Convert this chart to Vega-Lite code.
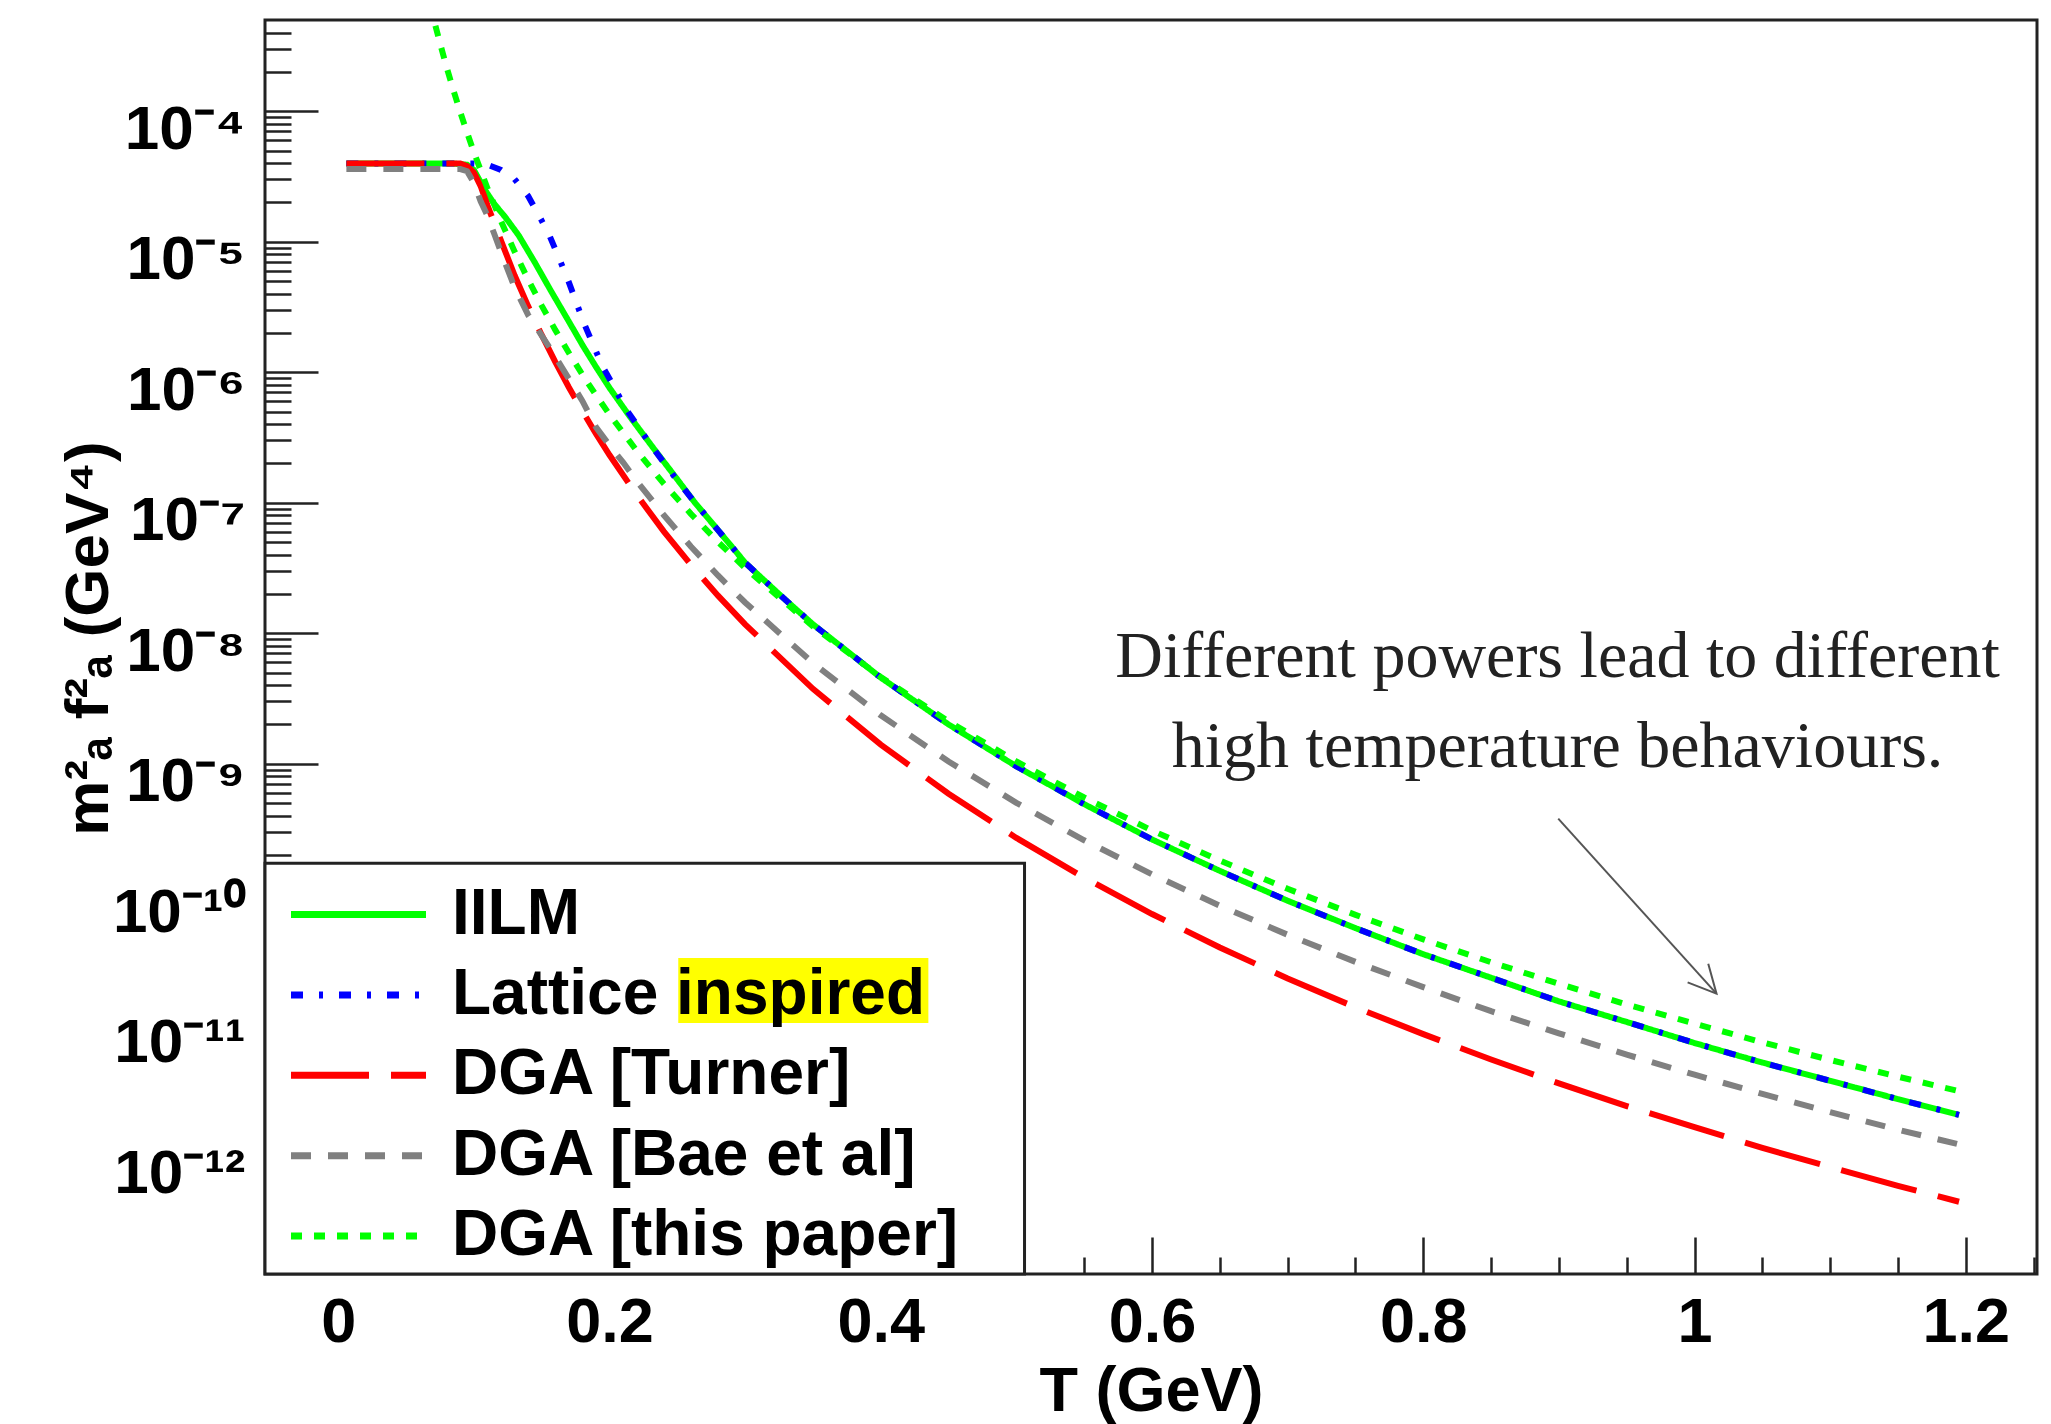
{
  "$schema": "https://vega.github.io/schema/vega-lite/v6.json",
  "width": 1772,
  "height": 1254,
  "autosize": {"type": "none"},
  "padding": {"left": 265, "top": 20, "right": 14, "bottom": 150},
  "background": "white",
  "config": {"view": {"stroke": "#222", "strokeWidth": 3}, "font": "Liberation Sans"},
  "datasets": {
    "curves": [
      {"model": "IILM", "T": 0.006, "v": 3.97e-5},
      {"model": "IILM", "T": 0.03, "v": 3.97e-5},
      {"model": "IILM", "T": 0.06, "v": 3.97e-5},
      {"model": "IILM", "T": 0.085, "v": 3.97e-5},
      {"model": "IILM", "T": 0.095, "v": 3.89e-5},
      {"model": "IILM", "T": 0.1, "v": 3.55e-5},
      {"model": "IILM", "T": 0.108, "v": 2.51e-5},
      {"model": "IILM", "T": 0.115, "v": 1.95e-5},
      {"model": "IILM", "T": 0.123, "v": 1.55e-5},
      {"model": "IILM", "T": 0.133, "v": 1.12e-5},
      {"model": "IILM", "T": 0.145, "v": 6.92e-6},
      {"model": "IILM", "T": 0.157, "v": 4.17e-6},
      {"model": "IILM", "T": 0.17, "v": 2.45e-6},
      {"model": "IILM", "T": 0.18, "v": 1.62e-6},
      {"model": "IILM", "T": 0.19, "v": 1.10e-6},
      {"model": "IILM", "T": 0.2, "v": 7.59e-7},
      {"model": "IILM", "T": 0.215, "v": 4.57e-7},
      {"model": "IILM", "T": 0.233, "v": 2.57e-7},
      {"model": "IILM", "T": 0.25, "v": 1.51e-7},
      {"model": "IILM", "T": 0.263, "v": 1.00e-7},
      {"model": "IILM", "T": 0.28, "v": 6.17e-8},
      {"model": "IILM", "T": 0.3, "v": 3.47e-8},
      {"model": "IILM", "T": 0.327, "v": 1.91e-8},
      {"model": "IILM", "T": 0.35, "v": 1.17e-8},
      {"model": "IILM", "T": 0.4, "v": 4.57e-9},
      {"model": "IILM", "T": 0.45, "v": 2.00e-9},
      {"model": "IILM", "T": 0.5, "v": 9.55e-10},
      {"model": "IILM", "T": 0.55, "v": 4.90e-10},
      {"model": "IILM", "T": 0.6, "v": 2.63e-10},
      {"model": "IILM", "T": 0.65, "v": 1.51e-10},
      {"model": "IILM", "T": 0.7, "v": 8.91e-11},
      {"model": "IILM", "T": 0.75, "v": 5.50e-11},
      {"model": "IILM", "T": 0.8, "v": 3.47e-11},
      {"model": "IILM", "T": 0.85, "v": 2.29e-11},
      {"model": "IILM", "T": 0.9, "v": 1.51e-11},
      {"model": "IILM", "T": 0.95, "v": 1.05e-11},
      {"model": "IILM", "T": 1.0, "v": 7.24e-12},
      {"model": "IILM", "T": 1.05, "v": 5.13e-12},
      {"model": "IILM", "T": 1.1, "v": 3.72e-12},
      {"model": "IILM", "T": 1.15, "v": 2.69e-12},
      {"model": "IILM", "T": 1.195, "v": 2.04e-12},

      {"model": "Lattice inspired", "T": 0.006, "v": 3.97e-5},
      {"model": "Lattice inspired", "T": 0.03, "v": 3.97e-5},
      {"model": "Lattice inspired", "T": 0.06, "v": 3.97e-5},
      {"model": "Lattice inspired", "T": 0.085, "v": 3.97e-5},
      {"model": "Lattice inspired", "T": 0.1, "v": 3.97e-5},
      {"model": "Lattice inspired", "T": 0.11, "v": 3.89e-5},
      {"model": "Lattice inspired", "T": 0.12, "v": 3.55e-5},
      {"model": "Lattice inspired", "T": 0.13, "v": 3.02e-5},
      {"model": "Lattice inspired", "T": 0.14, "v": 2.24e-5},
      {"model": "Lattice inspired", "T": 0.15, "v": 1.45e-5},
      {"model": "Lattice inspired", "T": 0.156, "v": 1.10e-5},
      {"model": "Lattice inspired", "T": 0.163, "v": 7.41e-6},
      {"model": "Lattice inspired", "T": 0.17, "v": 4.90e-6},
      {"model": "Lattice inspired", "T": 0.181, "v": 2.40e-6},
      {"model": "Lattice inspired", "T": 0.19, "v": 1.45e-6},
      {"model": "Lattice inspired", "T": 0.195, "v": 1.10e-6},
      {"model": "Lattice inspired", "T": 0.2, "v": 8.91e-7},
      {"model": "Lattice inspired", "T": 0.212, "v": 5.25e-7},
      {"model": "Lattice inspired", "T": 0.22, "v": 3.98e-7},
      {"model": "Lattice inspired", "T": 0.232, "v": 2.63e-7},
      {"model": "Lattice inspired", "T": 0.25, "v": 1.48e-7},
      {"model": "Lattice inspired", "T": 0.263, "v": 1.00e-7},
      {"model": "Lattice inspired", "T": 0.28, "v": 6.17e-8},
      {"model": "Lattice inspired", "T": 0.3, "v": 3.47e-8},
      {"model": "Lattice inspired", "T": 0.327, "v": 1.91e-8},
      {"model": "Lattice inspired", "T": 0.35, "v": 1.17e-8},
      {"model": "Lattice inspired", "T": 0.4, "v": 4.57e-9},
      {"model": "Lattice inspired", "T": 0.45, "v": 2.00e-9},
      {"model": "Lattice inspired", "T": 0.5, "v": 9.55e-10},
      {"model": "Lattice inspired", "T": 0.55, "v": 4.90e-10},
      {"model": "Lattice inspired", "T": 0.6, "v": 2.63e-10},
      {"model": "Lattice inspired", "T": 0.65, "v": 1.51e-10},
      {"model": "Lattice inspired", "T": 0.7, "v": 8.91e-11},
      {"model": "Lattice inspired", "T": 0.75, "v": 5.50e-11},
      {"model": "Lattice inspired", "T": 0.8, "v": 3.47e-11},
      {"model": "Lattice inspired", "T": 0.85, "v": 2.29e-11},
      {"model": "Lattice inspired", "T": 0.9, "v": 1.51e-11},
      {"model": "Lattice inspired", "T": 0.95, "v": 1.05e-11},
      {"model": "Lattice inspired", "T": 1.0, "v": 7.24e-12},
      {"model": "Lattice inspired", "T": 1.05, "v": 5.13e-12},
      {"model": "Lattice inspired", "T": 1.1, "v": 3.72e-12},
      {"model": "Lattice inspired", "T": 1.15, "v": 2.69e-12},
      {"model": "Lattice inspired", "T": 1.195, "v": 2.04e-12},

      {"model": "DGA [Turner]", "T": 0.006, "v": 3.97e-5},
      {"model": "DGA [Turner]", "T": 0.03, "v": 3.97e-5},
      {"model": "DGA [Turner]", "T": 0.06, "v": 3.97e-5},
      {"model": "DGA [Turner]", "T": 0.09, "v": 3.97e-5},
      {"model": "DGA [Turner]", "T": 0.095, "v": 3.80e-5},
      {"model": "DGA [Turner]", "T": 0.1, "v": 3.39e-5},
      {"model": "DGA [Turner]", "T": 0.105, "v": 2.67e-5},
      {"model": "DGA [Turner]", "T": 0.11, "v": 1.90e-5},
      {"model": "DGA [Turner]", "T": 0.12, "v": 1.02e-5},
      {"model": "DGA [Turner]", "T": 0.13, "v": 5.53e-6},
      {"model": "DGA [Turner]", "T": 0.14, "v": 3.21e-6},
      {"model": "DGA [Turner]", "T": 0.15, "v": 1.93e-6},
      {"model": "DGA [Turner]", "T": 0.16, "v": 1.20e-6},
      {"model": "DGA [Turner]", "T": 0.17, "v": 7.67e-7},
      {"model": "DGA [Turner]", "T": 0.18, "v": 5.04e-7},
      {"model": "DGA [Turner]", "T": 0.19, "v": 3.38e-7},
      {"model": "DGA [Turner]", "T": 0.2, "v": 2.32e-7},
      {"model": "DGA [Turner]", "T": 0.22, "v": 1.15e-7},
      {"model": "DGA [Turner]", "T": 0.24, "v": 6.04e-8},
      {"model": "DGA [Turner]", "T": 0.26, "v": 3.35e-8},
      {"model": "DGA [Turner]", "T": 0.28, "v": 1.94e-8},
      {"model": "DGA [Turner]", "T": 0.3, "v": 1.17e-8},
      {"model": "DGA [Turner]", "T": 0.35, "v": 3.75e-9},
      {"model": "DGA [Turner]", "T": 0.4, "v": 1.40e-9},
      {"model": "DGA [Turner]", "T": 0.45, "v": 5.89e-10},
      {"model": "DGA [Turner]", "T": 0.5, "v": 2.70e-10},
      {"model": "DGA [Turner]", "T": 0.55, "v": 1.34e-10},
      {"model": "DGA [Turner]", "T": 0.6, "v": 7.05e-11},
      {"model": "DGA [Turner]", "T": 0.65, "v": 3.91e-11},
      {"model": "DGA [Turner]", "T": 0.7, "v": 2.26e-11},
      {"model": "DGA [Turner]", "T": 0.75, "v": 1.36e-11},
      {"model": "DGA [Turner]", "T": 0.8, "v": 8.47e-12},
      {"model": "DGA [Turner]", "T": 0.85, "v": 5.41e-12},
      {"model": "DGA [Turner]", "T": 0.9, "v": 3.55e-12},
      {"model": "DGA [Turner]", "T": 0.95, "v": 2.38e-12},
      {"model": "DGA [Turner]", "T": 1.0, "v": 1.64e-12},
      {"model": "DGA [Turner]", "T": 1.05, "v": 1.14e-12},
      {"model": "DGA [Turner]", "T": 1.1, "v": 8.11e-13},
      {"model": "DGA [Turner]", "T": 1.15, "v": 5.83e-13},
      {"model": "DGA [Turner]", "T": 1.195, "v": 4.40e-13},

      {"model": "DGA [Bae et al]", "T": 0.006, "v": 3.60e-5},
      {"model": "DGA [Bae et al]", "T": 0.03, "v": 3.60e-5},
      {"model": "DGA [Bae et al]", "T": 0.06, "v": 3.60e-5},
      {"model": "DGA [Bae et al]", "T": 0.09, "v": 3.60e-5},
      {"model": "DGA [Bae et al]", "T": 0.095, "v": 3.47e-5},
      {"model": "DGA [Bae et al]", "T": 0.1, "v": 2.82e-5},
      {"model": "DGA [Bae et al]", "T": 0.105, "v": 2.04e-5},
      {"model": "DGA [Bae et al]", "T": 0.11, "v": 1.58e-5},
      {"model": "DGA [Bae et al]", "T": 0.115, "v": 1.15e-5},
      {"model": "DGA [Bae et al]", "T": 0.12, "v": 8.32e-6},
      {"model": "DGA [Bae et al]", "T": 0.13, "v": 4.47e-6},
      {"model": "DGA [Bae et al]", "T": 0.14, "v": 2.75e-6},
      {"model": "DGA [Bae et al]", "T": 0.15, "v": 1.91e-6},
      {"model": "DGA [Bae et al]", "T": 0.16, "v": 1.32e-6},
      {"model": "DGA [Bae et al]", "T": 0.17, "v": 8.91e-7},
      {"model": "DGA [Bae et al]", "T": 0.18, "v": 6.03e-7},
      {"model": "DGA [Bae et al]", "T": 0.19, "v": 3.80e-7},
      {"model": "DGA [Bae et al]", "T": 0.2, "v": 2.75e-7},
      {"model": "DGA [Bae et al]", "T": 0.21, "v": 2.04e-7},
      {"model": "DGA [Bae et al]", "T": 0.22, "v": 1.47e-7},
      {"model": "DGA [Bae et al]", "T": 0.24, "v": 8.05e-8},
      {"model": "DGA [Bae et al]", "T": 0.26, "v": 4.62e-8},
      {"model": "DGA [Bae et al]", "T": 0.28, "v": 2.77e-8},
      {"model": "DGA [Bae et al]", "T": 0.3, "v": 1.72e-8},
      {"model": "DGA [Bae et al]", "T": 0.35, "v": 5.92e-9},
      {"model": "DGA [Bae et al]", "T": 0.4, "v": 2.35e-9},
      {"model": "DGA [Bae et al]", "T": 0.45, "v": 1.04e-9},
      {"model": "DGA [Bae et al]", "T": 0.5, "v": 5.02e-10},
      {"model": "DGA [Bae et al]", "T": 0.55, "v": 2.59e-10},
      {"model": "DGA [Bae et al]", "T": 0.6, "v": 1.42e-10},
      {"model": "DGA [Bae et al]", "T": 0.65, "v": 8.17e-11},
      {"model": "DGA [Bae et al]", "T": 0.7, "v": 4.89e-11},
      {"model": "DGA [Bae et al]", "T": 0.75, "v": 3.03e-11},
      {"model": "DGA [Bae et al]", "T": 0.8, "v": 1.94e-11},
      {"model": "DGA [Bae et al]", "T": 0.85, "v": 1.27e-11},
      {"model": "DGA [Bae et al]", "T": 0.9, "v": 8.59e-12},
      {"model": "DGA [Bae et al]", "T": 0.95, "v": 5.90e-12},
      {"model": "DGA [Bae et al]", "T": 1.0, "v": 4.14e-12},
      {"model": "DGA [Bae et al]", "T": 1.05, "v": 2.95e-12},
      {"model": "DGA [Bae et al]", "T": 1.1, "v": 2.14e-12},
      {"model": "DGA [Bae et al]", "T": 1.15, "v": 1.57e-12},
      {"model": "DGA [Bae et al]", "T": 1.195, "v": 1.21e-12},

      {"model": "DGA [this paper]", "T": 0.06, "v": 1.48e-3},
      {"model": "DGA [this paper]", "T": 0.065, "v": 8.65e-4},
      {"model": "DGA [this paper]", "T": 0.07, "v": 5.27e-4},
      {"model": "DGA [this paper]", "T": 0.075, "v": 3.33e-4},
      {"model": "DGA [this paper]", "T": 0.08, "v": 2.16e-4},
      {"model": "DGA [this paper]", "T": 0.085, "v": 1.44e-4},
      {"model": "DGA [this paper]", "T": 0.09, "v": 9.82e-5},
      {"model": "DGA [this paper]", "T": 0.095, "v": 6.85e-5},
      {"model": "DGA [this paper]", "T": 0.1, "v": 4.86e-5},
      {"model": "DGA [this paper]", "T": 0.11, "v": 2.57e-5},
      {"model": "DGA [this paper]", "T": 0.12, "v": 1.44e-5},
      {"model": "DGA [this paper]", "T": 0.13, "v": 8.43e-6},
      {"model": "DGA [this paper]", "T": 0.14, "v": 5.13e-6},
      {"model": "DGA [this paper]", "T": 0.15, "v": 3.24e-6},
      {"model": "DGA [this paper]", "T": 0.16, "v": 2.11e-6},
      {"model": "DGA [this paper]", "T": 0.17, "v": 1.41e-6},
      {"model": "DGA [this paper]", "T": 0.18, "v": 9.59e-7},
      {"model": "DGA [this paper]", "T": 0.19, "v": 6.68e-7},
      {"model": "DGA [this paper]", "T": 0.2, "v": 4.74e-7},
      {"model": "DGA [this paper]", "T": 0.22, "v": 2.51e-7},
      {"model": "DGA [this paper]", "T": 0.24, "v": 1.40e-7},
      {"model": "DGA [this paper]", "T": 0.26, "v": 8.22e-8},
      {"model": "DGA [this paper]", "T": 0.28, "v": 5.01e-8},
      {"model": "DGA [this paper]", "T": 0.3, "v": 3.16e-8},
      {"model": "DGA [this paper]", "T": 0.35, "v": 1.13e-8},
      {"model": "DGA [this paper]", "T": 0.4, "v": 4.62e-9},
      {"model": "DGA [this paper]", "T": 0.45, "v": 2.11e-9},
      {"model": "DGA [this paper]", "T": 0.5, "v": 1.04e-9},
      {"model": "DGA [this paper]", "T": 0.55, "v": 5.51e-10},
      {"model": "DGA [this paper]", "T": 0.6, "v": 3.08e-10},
      {"model": "DGA [this paper]", "T": 0.65, "v": 1.81e-10},
      {"model": "DGA [this paper]", "T": 0.7, "v": 1.10e-10},
      {"model": "DGA [this paper]", "T": 0.75, "v": 6.95e-11},
      {"model": "DGA [this paper]", "T": 0.8, "v": 4.51e-11},
      {"model": "DGA [this paper]", "T": 0.85, "v": 3.01e-11},
      {"model": "DGA [this paper]", "T": 0.9, "v": 2.06e-11},
      {"model": "DGA [this paper]", "T": 0.95, "v": 1.43e-11},
      {"model": "DGA [this paper]", "T": 1.0, "v": 1.02e-11},
      {"model": "DGA [this paper]", "T": 1.05, "v": 7.33e-12},
      {"model": "DGA [this paper]", "T": 1.1, "v": 5.37e-12},
      {"model": "DGA [this paper]", "T": 1.15, "v": 4.00e-12},
      {"model": "DGA [this paper]", "T": 1.195, "v": 3.10e-12}
    ]
  },
  "data": {"name": "curves"},
  "resolve": {"axis": {"x": "independent", "y": "independent"}},
  "layer": [
    {
      "mark": {"type": "line", "strokeWidth": 6, "clip": true},
      "encoding": {
        "x": {
          "field": "T", "type": "quantitative",
          "scale": {"domain": [-0.054, 1.2525], "nice": false, "zero": false},
          "axis": {
            "orient": "bottom", "values": [0, 0.2, 0.4, 0.6, 0.8, 1, 1.2], "format": "~g",
            "tickSize": -37, "tickWidth": 2.5, "tickColor": "#222", "domain": false, "grid": false,
            "labelFont": "Liberation Sans", "labelFontWeight": "bold", "labelFontSize": 63, "labelColor": "black",
            "labelPadding": 54, "labelFlush": false, "labelOverlap": false, "labelBound": false,
            "title": "T (GeV)", "titleFont": "Liberation Sans", "titleFontWeight": "bold", "titleFontSize": 63,
            "titleColor": "black", "titleX": 886, "titleY": 136, "titleAlign": "center", "titleBaseline": "alphabetic"
          }
        },
        "y": {
          "field": "v", "type": "quantitative",
          "scale": {"type": "log", "domain": [1.23e-13, 5e-4], "nice": false},
          "axis": {
            "orient": "left", "values": [1e-4, 1e-5, 1e-6, 1e-7, 1e-8, 1e-9, 1e-10, 1e-11, 1e-12],
            "tickSize": -53, "tickWidth": 2.5, "tickColor": "#222", "domain": false, "grid": false,
            "labelFont": "Liberation Sans", "labelFontWeight": "bold", "labelFontSize": 62, "labelColor": "black",
            "labelPadding": 73, "labelAlign": "right", "labelBaseline": "alphabetic", "labelOffset": 37,
            "labelOverlap": false, "labelFlush": false, "labelBound": false,
            "labelExpr": "'10' + ['⁰','⁻¹','⁻²','⁻³','⁻⁴','⁻⁵','⁻⁶','⁻⁷','⁻⁸','⁻⁹','⁻¹⁰','⁻¹¹','⁻¹²','⁻¹³'][-round(log(datum.value)/LN10)]",
            "title": "m²ₐ f²ₐ (GeV⁴)", "titleFont": "Liberation Sans", "titleFontWeight": "bold", "titleFontSize": 62,
            "titleColor": "black", "titleX": -158, "titleY": 618, "titleAlign": "center", "titleBaseline": "alphabetic"
          }
        },
        "color": {
          "field": "model", "type": "nominal",
          "scale": {
            "domain": ["IILM", "Lattice inspired", "DGA [Turner]", "DGA [Bae et al]", "DGA [this paper]"],
            "range": ["#00ff00", "#0000ff", "#ff0000", "#808080", "#00ff00"]
          },
          "legend": {
            "orient": "none", "legendX": 61.5, "legendY": 862.5, "title": null, "direction": "vertical", "padding": 0,
            "symbolType": "M -2.5 0 L 2.5 0", "symbolSize": 2916, "symbolStrokeWidth": 7, "symbolOpacity": 1,
            "symbolFillColor": "transparent",
            "labelFont": "Liberation Sans", "labelFontWeight": "bold", "labelFontSize": 64, "labelColor": "black",
            "labelOffset": 61.5, "labelLimit": 1000, "rowPadding": 16.4
          }
        },
        "strokeDash": {
          "field": "model", "type": "nominal",
          "scale": {
            "domain": ["IILM", "Lattice inspired", "DGA [Turner]", "DGA [Bae et al]", "DGA [this paper]"],
            "range": [[1, 0], [12, 16, 4, 16], [78, 22], [20, 17], [11, 12]]
          },
          "legend": {
            "orient": "none", "legendX": 61.5, "legendY": 862.5, "title": null, "direction": "vertical", "padding": 0,
            "symbolType": "M -2.5 0 L 2.5 0", "symbolSize": 2916, "symbolStrokeWidth": 7, "symbolOpacity": 1,
            "symbolFillColor": "transparent",
            "labelFont": "Liberation Sans", "labelFontWeight": "bold", "labelFontSize": 64, "labelColor": "black",
            "labelOffset": 61.5, "labelLimit": 1000, "rowPadding": 16.4
          }
        }
      }
    },
    {
      "mark": {"type": "point", "opacity": 0, "size": 1, "clip": true},
      "encoding": {
        "x": {
          "field": "T", "type": "quantitative",
          "axis": {
            "orient": "bottom",
            "values": [-0.05, 0.05, 0.1, 0.15, 0.25, 0.3, 0.35, 0.45, 0.5, 0.55, 0.65, 0.7, 0.75, 0.85, 0.9, 0.95, 1.05, 1.1, 1.15, 1.25],
            "tickSize": -17, "tickWidth": 2.5, "tickColor": "#222", "domain": false, "grid": false, "labels": false, "title": null
          }
        },
        "y": {
          "field": "v", "type": "quantitative",
          "axis": {
            "orient": "left",
            "values": [2e-13, 3e-13, 4e-13, 5e-13, 6e-13, 7e-13, 8e-13, 9e-13,
                       2e-12, 3e-12, 4e-12, 5e-12, 6e-12, 7e-12, 8e-12, 9e-12,
                       2e-11, 3e-11, 4e-11, 5e-11, 6e-11, 7e-11, 8e-11, 9e-11,
                       2e-10, 3e-10, 4e-10, 5e-10, 6e-10, 7e-10, 8e-10, 9e-10,
                       2e-9, 3e-9, 4e-9, 5e-9, 6e-9, 7e-9, 8e-9, 9e-9,
                       2e-8, 3e-8, 4e-8, 5e-8, 6e-8, 7e-8, 8e-8, 9e-8,
                       2e-7, 3e-7, 4e-7, 5e-7, 6e-7, 7e-7, 8e-7, 9e-7,
                       2e-6, 3e-6, 4e-6, 5e-6, 6e-6, 7e-6, 8e-6, 9e-6,
                       2e-5, 3e-5, 4e-5, 5e-5, 6e-5, 7e-5, 8e-5, 9e-5,
                       2e-4, 3e-4, 4e-4],
            "tickSize": -26, "tickWidth": 2.5, "tickColor": "#222", "domain": false, "grid": false, "labels": false, "title": null
          }
        }
      }
    },
    {
      "data": {"values": [{}]},
      "mark": {"type": "rect", "fill": "white", "stroke": "#222", "strokeWidth": 3},
      "encoding": {
        "x": {"datum": -0.054, "type": "quantitative", "axis": null},
        "x2": {"datum": 0.506},
        "y": {"datum": 1.73e-10, "type": "quantitative", "axis": null},
        "y2": {"datum": 1.23e-13}
      }
    },
    {
      "data": {"values": [{}]},
      "mark": {"type": "rect", "fill": "#ffff00"},
      "encoding": {
        "x": {"datum": 0.2507, "type": "quantitative", "axis": null},
        "x2": {"datum": 0.4351},
        "y": {"datum": 3.24e-11, "type": "quantitative", "axis": null},
        "y2": {"datum": 1.03e-11}
      }
    },
    {
      "data": {"values": [{}]},
      "mark": {
        "type": "text", "text": ["Different powers lead to different", "high temperature behaviours."],
        "font": "Liberation Serif", "fontSize": 66, "align": "center", "baseline": "alphabetic",
        "lineHeight": 90, "fill": "#222"
      },
      "encoding": {
        "x": {"datum": 0.899, "type": "quantitative", "axis": null},
        "y": {"datum": 4.6e-9, "type": "quantitative", "axis": null}
      }
    },
    {
      "data": {"values": [{}]},
      "mark": {"type": "rule", "stroke": "#555", "strokeWidth": 2},
      "encoding": {
        "x": {"datum": 0.8995, "type": "quantitative", "axis": null},
        "y": {"datum": 3.8e-10, "type": "quantitative", "axis": null},
        "x2": {"datum": 1.0162},
        "y2": {"datum": 1.73e-11}
      }
    },
    {
      "data": {"values": [{}]},
      "mark": {
        "type": "point", "shape": "M -0.5 -1 L 0 0 L 0.5 -1", "filled": false,
        "stroke": "#555", "strokeWidth": 2, "size": 3080, "angle": -42, "opacity": 1
      },
      "encoding": {
        "x": {"datum": 1.0162, "type": "quantitative", "axis": null},
        "y": {"datum": 1.73e-11, "type": "quantitative", "axis": null}
      }
    }
  ]
}
